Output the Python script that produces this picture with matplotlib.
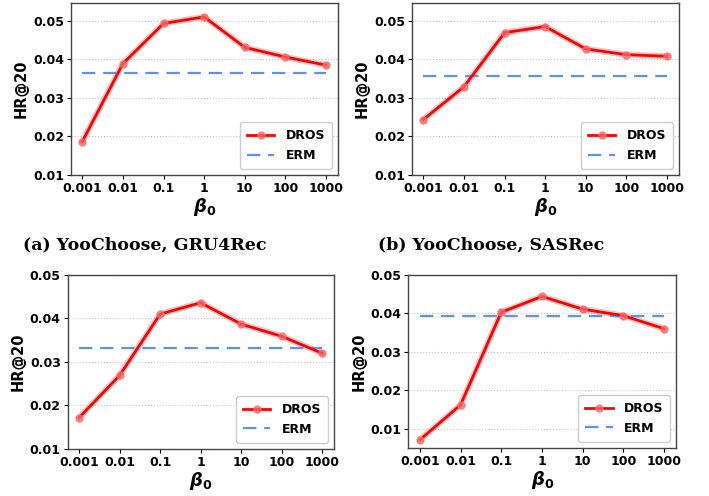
import matplotlib
matplotlib.use("Agg")
import matplotlib.pyplot as plt
import numpy as np

beta_labels = ["0.001", "0.01", "0.1", "1", "10", "100", "1000"]

dros_a = [0.0187, 0.0389, 0.0493, 0.0510, 0.0431, 0.0406, 0.0385]
erm_a = 0.0364
dros_b = [0.0244, 0.0329, 0.0469, 0.0485, 0.0427, 0.0412, 0.0408]
erm_b = 0.0358
dros_c = [0.0172, 0.0269, 0.0410, 0.0436, 0.0387, 0.0359, 0.0320]
erm_c = 0.0332
dros_d = [0.0071, 0.0162, 0.0403, 0.0444, 0.0411, 0.0394, 0.0360]
erm_d = 0.0392

yticks_all = [0.01, 0.02, 0.03, 0.04, 0.05]
captions = ["(a) YooChoose, GRU4Rec", "(b) YooChoose, SASRec"]

fig = plt.figure(figsize=(7.09, 4.96), dpi=100)

panels = [
    (dros_a, erm_a, (0.100, 0.647, 0.377, 0.347), (0.01, 0.0546)),
    (dros_b, erm_b, (0.581, 0.647, 0.377, 0.347), (0.01, 0.0546)),
    (dros_c, erm_c, (0.0955, 0.0948, 0.376, 0.351), (0.01, 0.05)),
    (dros_d, erm_d, (0.576, 0.0968, 0.378, 0.349), (0.005, 0.05)),
]

x = np.arange(len(beta_labels))
for dros, erm, rect, ylim in panels:
    ax = fig.add_axes(rect)
    ax.plot(x, dros, color="#c98a8a", lw=4.5, alpha=0.45, solid_capstyle="round", zorder=2)
    ax.plot(x, dros, color="red", lw=2, marker="o", markersize=5,
            markerfacecolor=(1, 0.4, 0.4, 0.75), markeredgecolor=(1, 0.4, 0.4, 0.75),
            label="DROS", zorder=3)
    ax.plot([x[0], x[-1]], [erm, erm], color="#5b8ff9", lw=1.6,
            dashes=(6, 3.5), label="ERM", zorder=2)
    ax.set_xlim(-0.28, 6.3)
    ax.set_ylim(*ylim)
    ax.set_xticks(x)
    ax.set_xticklabels(beta_labels, fontsize=9, fontweight="bold")
    ax.set_yticks(yticks_all)
    ax.set_yticklabels(["%.2f" % v for v in yticks_all], fontsize=9, fontweight="bold")
    ax.yaxis.grid(True, color="#c8c8c8", linestyle=":", lw=0.8)
    ax.set_axisbelow(True)
    ax.set_ylabel("HR@20", fontsize=10.5, fontweight="bold", labelpad=3)
    ax.set_xlabel(r"$\mathbfit{\beta}_\mathbf{0}$", fontsize=13, labelpad=1)
    for s in ax.spines.values():
        s.set_color("#444444")
        s.set_linewidth(1.0)
    ax.tick_params(length=3, width=0.8, pad=2)
    leg = ax.legend(loc="lower right", prop={"weight": "bold", "size": 9},
                    handlelength=2.2, borderpad=0.55, labelspacing=0.55,
                    handletextpad=0.9, fancybox=True, framealpha=1, edgecolor="#cccccc")

fig.text(0.033, 0.506, captions[0], fontsize=12.5, fontweight="bold",
         family="DejaVu Serif", va="center", ha="left")
fig.text(0.533, 0.506, captions[1], fontsize=12.5, fontweight="bold",
         family="DejaVu Serif", va="center", ha="left")

fig.savefig("out.png", dpi=100)
